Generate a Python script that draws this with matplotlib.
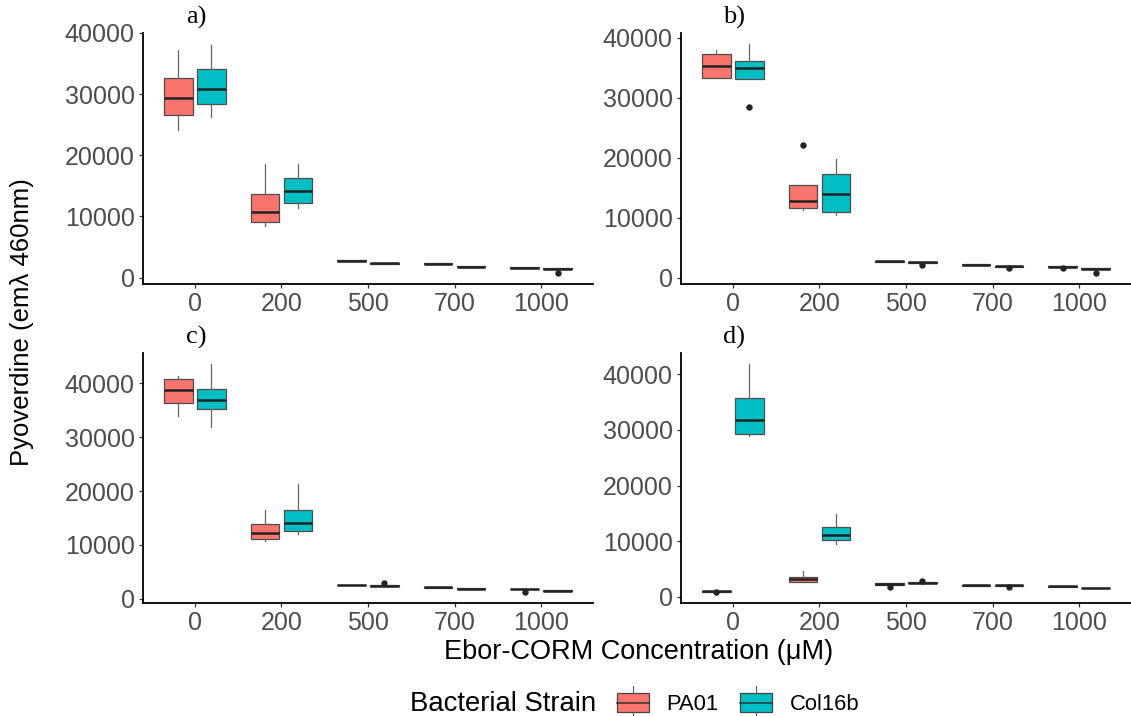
import matplotlib
matplotlib.use('Agg')
import matplotlib.pyplot as plt
from matplotlib.legend_handler import HandlerBase
from matplotlib.patches import Rectangle, Patch
from matplotlib.lines import Line2D

plt.rcParams['font.family'] = ['Liberation Sans', 'DejaVu Sans']

conc = ['0', '200', '500', '700', '1000']
strains = ['PA01', 'Col16b']
colors = ['#F8766D', '#00BFC4']
yticks = [0, 10000, 20000, 30000, 40000]

# one row per concentration: whisker low, q1, median, q3, whisker high
a_pa01 = [[24220, 26620, 29330, 32660, 37280],
          [8430, 9140, 10780, 13600, 18500],
          [2720, 2720, 2780, 2840, 2840],
          [2250, 2250, 2290, 2330, 2330],
          [1590, 1590, 1630, 1670, 1670]]
a_col16b = [[26340, 28350, 30910, 34060, 38100],
            [11370, 12250, 14140, 16330, 18660],
            [2220, 2220, 2340, 2460, 2460],
            [1760, 1760, 1800, 1840, 1840],
            [1400, 1400, 1470, 1540, 1540]]
a_pa01_out = [[], [], [], [], []]
a_col16b_out = [[], [], [], [], [820]]

b_pa01 = [[33340, 33340, 35340, 37340, 37940],
          [11330, 11670, 12720, 15500, 15500],
          [2620, 2620, 2720, 2820, 2820],
          [2130, 2130, 2170, 2210, 2210],
          [1790, 1790, 1830, 1870, 1870]]
b_col16b = [[33170, 33170, 35000, 36170, 38890],
            [10440, 10890, 14000, 17340, 19720],
            [2450, 2450, 2550, 2650, 2650],
            [1800, 1800, 1890, 1960, 1960],
            [1400, 1400, 1500, 1600, 1600]]
b_pa01_out = [[], [22060], [], [], [1560]]
b_col16b_out = [[28500], [], [2050], [1610], [830]]

c_pa01 = [[34000, 36330, 38780, 40740, 41360],
          [10780, 11150, 12310, 13910, 16540],
          [2590, 2590, 2630, 2670, 2670],
          [2100, 2100, 2140, 2180, 2180],
          [1760, 1760, 1840, 1920, 1920]]
c_col16b = [[31920, 35230, 36940, 38900, 43500],
            [12130, 12620, 14090, 16540, 21260],
            [2400, 2400, 2450, 2500, 2500],
            [1860, 1860, 1900, 1940, 1940],
            [1490, 1490, 1530, 1570, 1570]]
c_pa01_out = [[], [], [], [], [1350]]
c_col16b_out = [[], [], [2880], [], []]

d_pa01 = [[960, 960, 1000, 1040, 1040],
          [2610, 2610, 3150, 3630, 4640],
          [2220, 2220, 2320, 2420, 2420],
          [2030, 2030, 2070, 2110, 2110],
          [1850, 1850, 1890, 1930, 1930]]
d_col16b = [[28990, 29220, 31720, 35780, 41790],
            [9470, 10180, 11180, 12560, 14820],
            [2500, 2500, 2550, 2600, 2600],
            [2030, 2030, 2070, 2110, 2110],
            [1530, 1530, 1610, 1690, 1690]]
d_pa01_out = [[950], [], [1710], [], []]
d_col16b_out = [[], [], [2910], [1710], []]

W, H = 1131, 716
# panel boxes in pixels: left, top, right, bottom
panels = [
    ('a)', (143, 33, 593, 284), a_pa01, a_col16b, a_pa01_out, a_col16b_out),
    ('b)', (681, 33, 1131, 284), b_pa01, b_col16b, b_pa01_out, b_col16b_out),
    ('c)', (143, 353, 593, 603), c_pa01, c_col16b, c_pa01_out, c_col16b_out),
    ('d)', (681, 353, 1131, 603), d_pa01, d_col16b, d_pa01_out, d_col16b_out),
]


def make_stats(rows, outs):
    stats = []
    for r, o in zip(rows, outs):
        stats.append(dict(whislo=r[0], q1=r[1], med=r[2], q3=r[3], whishi=r[4], fliers=o))
    return stats


class BoxKey(HandlerBase):
    def create_artists(self, legend, orig_handle, xdescent, ydescent, width, height, fontsize, trans):
        x0, y0 = -xdescent, -ydescent
        box = Rectangle((x0, y0), width, height, facecolor=orig_handle.get_facecolor(),
                        edgecolor='#444444', lw=0.9, transform=trans)
        med = Line2D([x0, x0 + width], [y0 + height / 2] * 2, color='#333333', lw=1.1, transform=trans)
        whi = Line2D([x0 + width / 2] * 2, [y0 + height, y0 + height * 1.35], color='#555555', lw=0.8, transform=trans)
        wlo = Line2D([x0 + width / 2] * 2, [y0, y0 - height * 0.35], color='#555555', lw=0.8, transform=trans)
        return [box, med, whi, wlo]


fig = plt.figure(figsize=(W / 100, H / 100), dpi=100)

for label, (l, t, r, b), pa, col, pa_out, col_out in panels:
    ax = fig.add_axes([l / W, 1 - b / H, (r - l) / W, (b - t) / H])
    xs = list(range(len(conc)))
    for rows, outs, color, off in [(pa, pa_out, colors[0], -0.19), (col, col_out, colors[1], 0.19)]:
        ax.bxp(make_stats(rows, outs), positions=[x + off for x in xs], widths=0.33,
               patch_artist=True, showcaps=False, manage_ticks=False,
               boxprops=dict(facecolor=color, edgecolor='#4D4D4D', linewidth=0.9),
               medianprops=dict(color='#222222', linewidth=1.8),
               whiskerprops=dict(color='#666666', linewidth=0.9),
               flierprops=dict(marker='o', markersize=3.6, markerfacecolor='#222222',
                               markeredgecolor='#222222'))
    # ggplot style 5% expansion of data range
    vals = [v for rows in (pa, col) for row in rows for v in row]
    vals += [v for outs in (pa_out, col_out) for o in outs for v in o]
    lo, hi = min(vals), max(vals)
    pad = 0.05 * (hi - lo)
    ax.set_ylim(lo - pad, hi + pad)
    ax.set_xlim(-0.6, len(conc) - 0.4)
    ax.set_xticks(xs)
    ax.set_xticklabels(conc)
    ax.set_yticks(yticks)
    ax.set_yticklabels([str(v) for v in yticks])
    for s in ['top', 'right']:
        ax.spines[s].set_visible(False)
    for s in ['left', 'bottom']:
        ax.spines[s].set_linewidth(1.3)
        ax.spines[s].set_color('black')
    ax.tick_params(length=3, width=0.9, color='#333333', labelcolor='#4D4D4D',
                   labelsize=18, pad=3)
    fig.text((l + 53) / W, 1 - (t - 16) / H, label, ha='center', va='center',
             fontsize=19, family=['Liberation Serif', 'DejaVu Serif'])

fig.text(22 / W, 1 - 322 / H, 'Pyoverdine (emλ 460nm)', rotation=90,
         ha='center', va='center', fontsize=18.5)
fig.text(639 / W, 1 - 652 / H, 'Ebor-CORM Concentration (μM)',
         ha='center', va='center', fontsize=19.5)
fig.text(410 / W, 1 - 704 / H, 'Bacterial Strain', ha='left', va='center', fontsize=19.8)

fig.legend(handles=[Patch(facecolor=c) for c in colors], labels=strains,
           handler_map={Patch: BoxKey()}, loc='center left',
           bbox_to_anchor=(617 / W, 1 - 704 / H), ncol=2, frameon=False,
           fontsize=15.8, handlelength=1.45, handleheight=1.0, handletextpad=0.8,
           columnspacing=1.0, borderpad=0, borderaxespad=0)

fig.savefig('out.png', dpi=100)
